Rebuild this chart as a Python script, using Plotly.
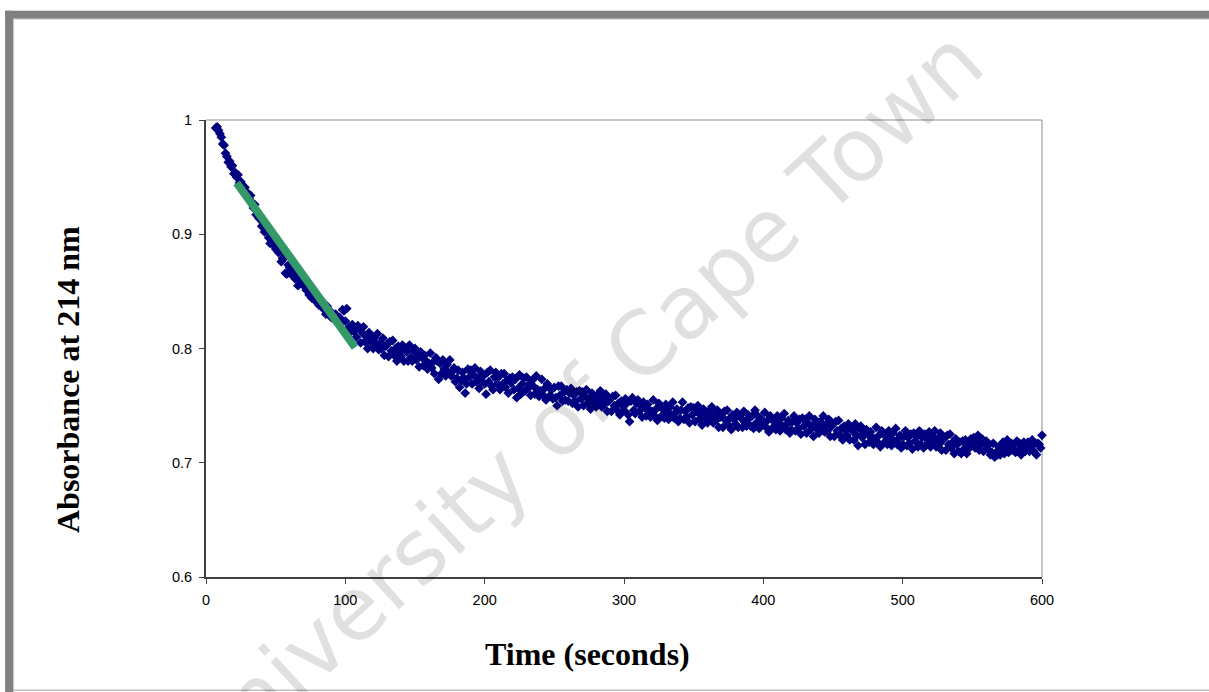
import plotly.graph_objects as go

# ---------------- data ----------------
time_start = 7
absorbance = [
    0.993, 0.994, 0.991,
    0.988, 0.985, 0.979, 0.978, 0.971, 0.968, 0.963, 0.964, 0.959, 0.960,   # 10-19
    0.953, 0.954, 0.950, 0.952, 0.945, 0.946, 0.943, 0.938, 0.941, 0.936,   # 20-29
    0.936, 0.931, 0.934, 0.928, 0.923, 0.926, 0.917, 0.919, 0.914, 0.916,   # 30-39
    0.907, 0.910, 0.902, 0.904, 0.904, 0.897, 0.892, 0.896, 0.897, 0.890,   # 40-49
    0.887, 0.890, 0.884, 0.885, 0.876, 0.879, 0.879, 0.866, 0.865, 0.873,   # 50-59
    0.871, 0.865, 0.870, 0.865, 0.861, 0.867, 0.855, 0.862, 0.857, 0.859,   # 60-69
    0.855, 0.858, 0.851, 0.856, 0.847, 0.850, 0.844, 0.848, 0.845, 0.841,   # 70-79
    0.844, 0.838, 0.841, 0.842, 0.835, 0.836, 0.830, 0.837, 0.831, 0.833,   # 80-89
    0.827, 0.830, 0.826, 0.830, 0.826, 0.822, 0.827, 0.823, 0.834, 0.833,   # 90-99
    0.824, 0.835, 0.817, 0.819, 0.815, 0.821, 0.815, 0.817, 0.810, 0.820,   # 100-109
    0.818, 0.805, 0.814, 0.819, 0.806, 0.810, 0.800, 0.814, 0.806, 0.810,   # 110-119
    0.800, 0.809, 0.804, 0.813, 0.799, 0.805, 0.800, 0.809, 0.794, 0.802,   # 120-129
    0.804, 0.793, 0.806, 0.798, 0.807, 0.794, 0.800, 0.789, 0.802, 0.797,   # 130-139
    0.793, 0.803, 0.789, 0.799, 0.797, 0.789, 0.803, 0.792, 0.789, 0.798,   # 140-149
    0.800, 0.790, 0.794, 0.784, 0.797, 0.792, 0.785, 0.794, 0.789, 0.782,   # 150-159
    0.787, 0.796, 0.783, 0.788, 0.778, 0.792, 0.789, 0.773, 0.787, 0.778,   # 160-169
    0.790, 0.782, 0.776, 0.786, 0.779, 0.790, 0.776, 0.780, 0.783, 0.771,   # 170-179
    0.774, 0.781, 0.766, 0.772, 0.779, 0.774, 0.761, 0.769, 0.782, 0.775,   # 180-189
    0.781, 0.769, 0.777, 0.783, 0.771, 0.774, 0.765, 0.780, 0.771, 0.776,   # 190-199
    0.769, 0.760, 0.779, 0.771, 0.781, 0.767, 0.764, 0.775, 0.779, 0.769,   # 200-209
    0.775, 0.764, 0.778, 0.769, 0.778, 0.766, 0.772, 0.761, 0.774, 0.770,   # 210-219
    0.775, 0.764, 0.773, 0.757, 0.765, 0.777, 0.760, 0.769, 0.774, 0.763,   # 220-229
    0.775, 0.765, 0.769, 0.759, 0.772, 0.767, 0.760, 0.776, 0.764, 0.758,   # 230-239
    0.763, 0.773, 0.759, 0.765, 0.755, 0.769, 0.766, 0.759, 0.764, 0.756,   # 240-249
    0.766, 0.757, 0.750, 0.767, 0.759, 0.767, 0.754, 0.762, 0.755, 0.764,   # 250-259
    0.754, 0.761, 0.765, 0.752, 0.759, 0.754, 0.762, 0.749, 0.763, 0.756,   # 260-269
    0.762, 0.750, 0.758, 0.764, 0.752, 0.756, 0.747, 0.761, 0.753, 0.758,   # 270-279
    0.749, 0.759, 0.754, 0.763, 0.749, 0.756, 0.751, 0.760, 0.745, 0.754,   # 280-289
    0.756, 0.745, 0.758, 0.750, 0.759, 0.746, 0.752, 0.742, 0.754, 0.750,   # 290-299
    0.746, 0.756, 0.752, 0.742, 0.736, 0.754, 0.757, 0.746, 0.743, 0.752,   # 300-309
    0.755, 0.745, 0.750, 0.740, 0.753, 0.748, 0.741, 0.751, 0.746, 0.740,   # 310-319
    0.745, 0.755, 0.741, 0.747, 0.737, 0.752, 0.749, 0.741, 0.747, 0.739,   # 320-329
    0.751, 0.744, 0.738, 0.749, 0.742, 0.753, 0.739, 0.744, 0.747, 0.736,   # 330-339
    0.739, 0.746, 0.753, 0.738, 0.745, 0.740, 0.748, 0.735, 0.749, 0.742,   # 340-349
    0.748, 0.736, 0.745, 0.750, 0.738, 0.742, 0.733, 0.747, 0.739, 0.744,   # 350-359
    0.735, 0.745, 0.740, 0.749, 0.735, 0.742, 0.737, 0.746, 0.731, 0.740,   # 360-369
    0.742, 0.731, 0.745, 0.737, 0.746, 0.733, 0.739, 0.729, 0.742, 0.738,   # 370-379
    0.734, 0.744, 0.731, 0.741, 0.739, 0.731, 0.745, 0.735, 0.732, 0.742,   # 380-389
    0.739, 0.732, 0.741, 0.730, 0.746, 0.735, 0.741, 0.730, 0.739, 0.733,   # 390-399
    0.734, 0.744, 0.731, 0.737, 0.727, 0.741, 0.738, 0.731, 0.737, 0.729,   # 400-409
    0.741, 0.734, 0.728, 0.739, 0.732, 0.743, 0.729, 0.734, 0.737, 0.726,   # 410-419
    0.729, 0.736, 0.741, 0.728, 0.735, 0.730, 0.738, 0.725, 0.739, 0.732,   # 420-429
    0.738, 0.726, 0.735, 0.741, 0.729, 0.732, 0.723, 0.738, 0.730, 0.735,   # 430-439
    0.726, 0.736, 0.731, 0.741, 0.727, 0.733, 0.728, 0.738, 0.723, 0.732,   # 440-449
    0.734, 0.723, 0.736, 0.728, 0.737, 0.724, 0.730, 0.720, 0.732, 0.728,   # 450-459
    0.724, 0.734, 0.720, 0.730, 0.728, 0.720, 0.734, 0.724, 0.715, 0.730,   # 460-469
    0.732, 0.722, 0.726, 0.716, 0.729, 0.725, 0.718, 0.727, 0.722, 0.716,   # 470-479
    0.721, 0.731, 0.718, 0.724, 0.714, 0.728, 0.725, 0.718, 0.724, 0.716,   # 480-489
    0.728, 0.721, 0.715, 0.726, 0.719, 0.730, 0.716, 0.721, 0.724, 0.713,   # 490-499
    0.716, 0.723, 0.728, 0.715, 0.722, 0.717, 0.725, 0.712, 0.726, 0.719,   # 500-509
    0.723, 0.714, 0.728, 0.716, 0.722, 0.713, 0.725, 0.721, 0.717, 0.727,   # 510-519
    0.714, 0.724, 0.719, 0.728, 0.714, 0.721, 0.716, 0.726, 0.711, 0.720,   # 520-529
    0.722, 0.711, 0.724, 0.716, 0.725, 0.713, 0.718, 0.708, 0.721, 0.716,   # 530-539
    0.710, 0.718, 0.708, 0.719, 0.712, 0.720, 0.708, 0.716, 0.713, 0.721,   # 540-549
    0.718, 0.722, 0.713, 0.720, 0.724, 0.711, 0.716, 0.721, 0.710, 0.717,   # 550-559
    0.719, 0.712, 0.716, 0.707, 0.709, 0.717, 0.705, 0.709, 0.707, 0.714,   # 560-569
    0.707, 0.711, 0.718, 0.708, 0.714, 0.720, 0.709, 0.713, 0.717, 0.711,   # 570-579
    0.716, 0.709, 0.719, 0.711, 0.717, 0.707, 0.714, 0.718, 0.710, 0.713,   # 580-589
    0.718, 0.710, 0.715, 0.720, 0.710, 0.717, 0.707, 0.717, 0.716, 0.713,   # 590-599
    0.724,                                                                   # 600
]
time_s = list(range(time_start, time_start + len(absorbance)))  # 1 s sampling grid

fit_time = [22, 107]
fit_abs = [0.945, 0.801]

x_ticks = [0, 100, 200, 300, 400, 500, 600]
y_ticks = [0.6, 0.7, 0.8, 0.9, 1.0]
y_tick_labels = ["0.6", "0.7", "0.8", "0.9", "1"]

x_title = "Time (seconds)"
y_title = "Absorbance at 214 nm"
watermark = "University of Cape Town"

# ---------------- layout geometry ----------------
W, H = 1209, 692
L, R, T, B = 206, 1042.5, 119.5, 577.5   # plot area in pixels


def px(x):
    return (x - L) / (R - L)


def py(y):
    return (B - y) / (B - T)


fig = go.Figure()

fig.add_trace(go.Scatter(
    x=time_s, y=absorbance, mode="markers",
    marker=dict(symbol="diamond", size=7.5, color="#000080", line=dict(width=0)),
    showlegend=False, cliponaxis=False,
))
fig.add_trace(go.Scatter(
    x=fit_time, y=fit_abs, mode="lines",
    line=dict(color="#339966", width=8),
    showlegend=False,
))

shapes = [
    # outer frame (thick grey top and left, light thin bottom)
    dict(type="rect", xref="paper", yref="paper", x0=px(5), x1=px(1215), y0=py(18), y1=py(10),
         fillcolor="#808080", line=dict(width=0), layer="below"),
    dict(type="rect", xref="paper", yref="paper", x0=px(5), x1=px(13), y0=py(700), y1=py(10),
         fillcolor="#808080", line=dict(width=0), layer="below"),
    dict(type="line", xref="paper", yref="paper", x0=px(13), x1=px(1215), y0=py(18.5), y1=py(18.5),
         line=dict(color="#c8c8c8", width=1), layer="below"),
    dict(type="line", xref="paper", yref="paper", x0=px(13.5), x1=px(13.5), y0=py(700), y1=py(18),
         line=dict(color="#c8c8c8", width=1), layer="below"),
    dict(type="line", xref="paper", yref="paper", x0=px(13), x1=px(1215), y0=py(691), y1=py(691),
         line=dict(color="#c0c0c0", width=1.5), layer="below"),
    # plot-area top/right border
    dict(type="line", xref="paper", yref="paper", x0=0, x1=1, y0=1, y1=1,
         line=dict(color="#8c8c8c", width=1), layer="below"),
    dict(type="line", xref="paper", yref="paper", x0=1, x1=1, y0=0, y1=1,
         line=dict(color="#8c8c8c", width=1), layer="below"),
]

annotations = [
    dict(text=watermark, xref="paper", yref="paper", x=px(578), y=py(405),
         showarrow=False, textangle=-42.5,
         font=dict(family="DejaVu Sans", size=88, color="rgba(0,0,0,0.12)"),
         xanchor="center", yanchor="middle"),
    dict(text="<b>" + x_title + "</b>", xref="paper", yref="paper", x=px(588), y=py(655),
         showarrow=False, xanchor="center", yanchor="middle",
         font=dict(family="Liberation Serif, Times New Roman", size=32, color="#000000")),
    dict(text="<b>" + y_title + "</b>", xref="paper", yref="paper", x=px(68), y=py(380),
         showarrow=False, xanchor="center", yanchor="middle", textangle=-90,
         font=dict(family="Liberation Serif, Times New Roman", size=32, color="#000000")),
]

fig.update_layout(
    width=W, height=H,
    margin=dict(l=L, r=W - R, t=T, b=H - B, pad=0),
    paper_bgcolor="white", plot_bgcolor="white",
    shapes=shapes, annotations=annotations,
    xaxis=dict(range=[0, 600], tickvals=x_ticks, ticks="outside", ticklen=5,
               tickcolor="#404040", tickwidth=1, showgrid=False, zeroline=False,
               showline=True, linecolor="#404040", linewidth=2,
               tickfont=dict(family="Liberation Sans, Arial", size=14.5, color="#000000"),
               ticklabelstandoff=4),
    yaxis=dict(range=[0.6, 1.0], tickvals=y_ticks, ticktext=y_tick_labels, ticks="outside",
               ticklen=5, tickcolor="#404040", tickwidth=1, showgrid=False, zeroline=False,
               showline=True, linecolor="#404040", linewidth=2,
               tickfont=dict(family="Liberation Sans, Arial", size=14.5, color="#000000"),
               ticklabelstandoff=4),
)

fig.write_html("out.html")
